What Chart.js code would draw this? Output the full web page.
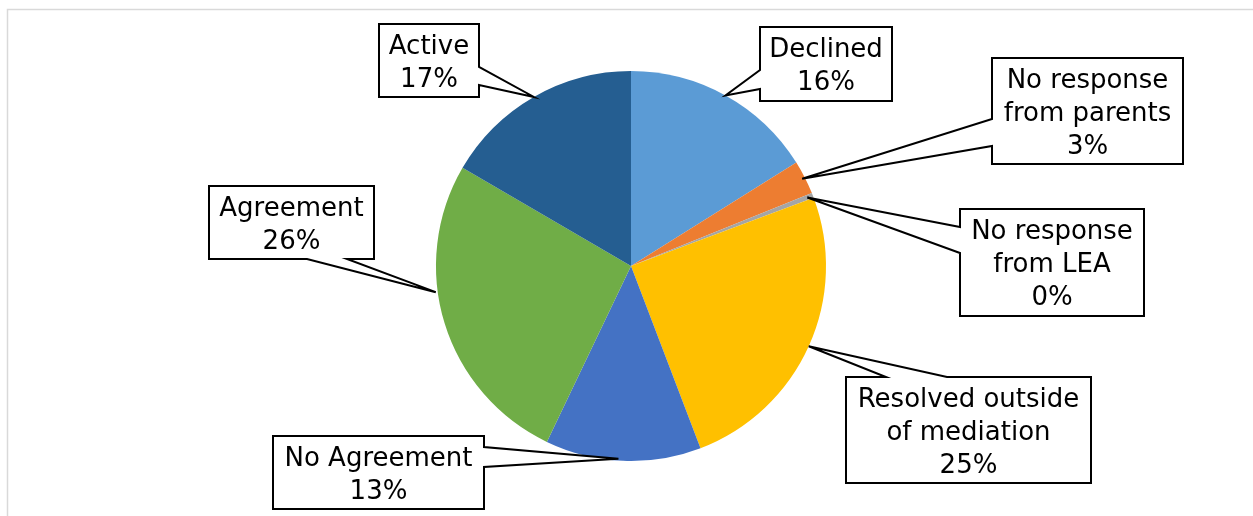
<!DOCTYPE html>
<html>
<head>
<meta charset="utf-8">
<script src="https://cdn.jsdelivr.net/npm/chart.js@4"></script>
<style>
  html, body { margin: 0; padding: 0; background: #fff; }
  #wrap { width: 1253px; height: 516px; position: relative; }
</style>
</head>
<body>
<div id="wrap"><canvas id="myChart"></canvas></div>
<script>
// data
const categories = ['Declined', 'No response from parents', 'No response from LEA',
  'Resolved outside of mediation', 'No Agreement', 'Agreement', 'Active'];
const shares = [16.1, 2.8, 0.4, 24.9, 12.9, 26.3, 16.6];
const labelLines = [
  ['Declined'],
  ['No response', 'from parents'],
  ['No response', 'from LEA'],
  ['Resolved outside', 'of mediation'],
  ['No Agreement'],
  ['Agreement'],
  ['Active']
];

const colors = ['#5B9BD5', '#ED7D31', '#A5A5A5', '#FFC000', '#4472C4', '#70AD47', '#255E91'];

// callout boxes: box, side the pointer leaves from, pointer base on that side,
// where on the slice arc the tip lands (fraction of the angle, fraction of radius)
const callouts = [
  { x: 760, y: 27, w: 132, h: 74, side: 'left', base: [70, 89], frac: 0.5, rf: 1.0 },
  { x: 992, y: 58, w: 191, h: 106, side: 'left', base: [119, 146], frac: 0.5, rf: 0.985 },
  { x: 960, y: 209, w: 184, h: 107, side: 'left', base: [227, 253], frac: 0.5, rf: 0.97 },
  { x: 846, y: 377, w: 245, h: 106, side: 'top', base: [886, 947], frac: 0.5, rf: 1.0 },
  { x: 273, y: 436, w: 211, h: 73, side: 'right', base: [447, 467], frac: 0.53, rf: 0.99 },
  { x: 209, y: 186, w: 165, h: 73, side: 'bottom', base: [307, 347], frac: 0.6, rf: 1.01 },
  { x: 379, y: 24, w: 100, h: 73, side: 'right', base: [67, 85], frac: 0.5, rf: 1.0 }
];

const total = shares.reduce((a, b) => a + b, 0);

const frame = {
  id: 'frame',
  beforeDraw(chart) {
    const c = chart.ctx;
    c.save();
    c.strokeStyle = '#D9D9D9';
    c.lineWidth = 1.5;
    c.strokeRect(7.5, 9.5, 1400, 700);
    c.restore();
  }
};

const calloutPlugin = {
  id: 'callouts',
  afterDatasetsDraw(chart) {
    const c = chart.ctx;
    const arcs = chart.getDatasetMeta(0).data;
    c.save();
    c.lineWidth = 2;
    c.strokeStyle = '#000';
    c.lineJoin = 'miter';
    arcs.forEach((arc, i) => {
      const co = callouts[i];
      const p = arc.getProps(['x', 'y', 'startAngle', 'endAngle', 'outerRadius'], true);
      const a = p.startAngle + co.frac * (p.endAngle - p.startAngle);
      const r = p.outerRadius * co.rf;
      const tx = p.x + r * Math.cos(a);
      const ty = p.y + r * Math.sin(a);
      const x0 = co.x, y0 = co.y, x1 = co.x + co.w, y1 = co.y + co.h;
      c.beginPath();
      c.moveTo(x0, y0);
      if (co.side === 'top') { c.lineTo(co.base[0], y0); c.lineTo(tx, ty); c.lineTo(co.base[1], y0); }
      c.lineTo(x1, y0);
      if (co.side === 'right') { c.lineTo(x1, co.base[0]); c.lineTo(tx, ty); c.lineTo(x1, co.base[1]); }
      c.lineTo(x1, y1);
      if (co.side === 'bottom') { c.lineTo(co.base[1], y1); c.lineTo(tx, ty); c.lineTo(co.base[0], y1); }
      c.lineTo(x0, y1);
      if (co.side === 'left') { c.lineTo(x0, co.base[1]); c.lineTo(tx, ty); c.lineTo(x0, co.base[0]); }
      c.closePath();
      c.fillStyle = '#fff';
      c.fill();
      c.stroke();

      const lines = labelLines[i].concat([Math.round(shares[i] / total * 100) + '%']);
      const lh = 33;
      const cy = co.y + co.h / 2;
      c.fillStyle = '#000';
      c.font = '26px "DejaVu Sans", Verdana, sans-serif';
      c.textAlign = 'center';
      c.textBaseline = 'alphabetic';
      lines.forEach((t, k) => {
        const ly = cy + (k - (lines.length - 1) / 2) * lh + 9.5;
        c.fillText(t, co.x + co.w / 2, ly);
      });
    });
    c.restore();
  }
};

new Chart(document.getElementById('myChart'), {
  type: 'pie',
  data: {
    labels: categories,
    datasets: [{
      data: shares,
      backgroundColor: colors,
      borderWidth: 0
    }]
  },
  options: {
    responsive: true,
    maintainAspectRatio: false,
    animation: false,
    layout: { padding: { left: 436, right: 427, top: 71, bottom: 55 } },
    plugins: {
      legend: { display: false },
      tooltip: { enabled: false }
    }
  },
  plugins: [frame, calloutPlugin]
});
</script>
</body>
</html>
